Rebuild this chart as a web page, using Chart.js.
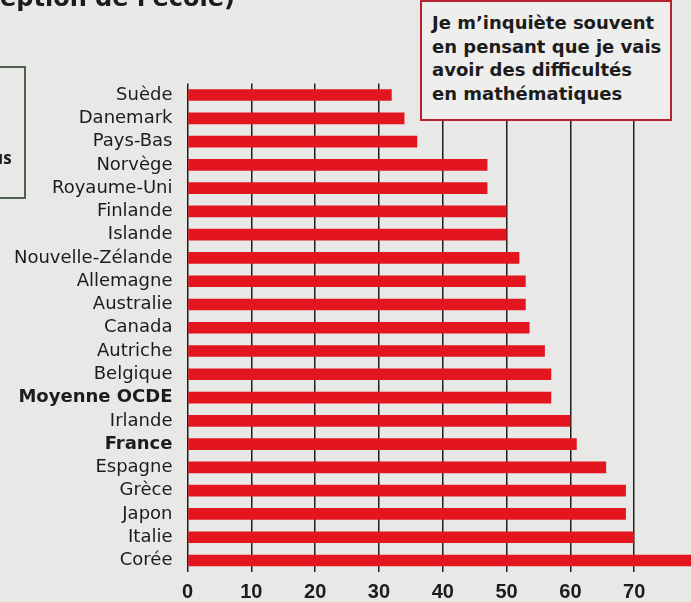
<!DOCTYPE html>
<html>
<head>
<meta charset="utf-8">
<script src="https://cdn.jsdelivr.net/npm/chart.js@4/dist/chart.umd.min.js"></script>
<style>
  html, body { margin: 0; padding: 0; background: #e8e8e6; }
  #wrap { position: relative; width: 691px; height: 602px; overflow: hidden; background: #e8e8e6; }
  #c { position: absolute; left: 0; top: 0; }
  .note { position: absolute; left: 420px; top: 0px; width: 248px; height: 117px;
          border: 2.5px solid #b3242f; background: #eeeeec; box-sizing: content-box;
          font-family: "DejaVu Sans", sans-serif; font-weight: 700; font-size: 18px;
          line-height: 23.5px; color: #1c1c1c; padding: 0; }
  .note div { position: absolute; left: 10px; top: 9.3px; white-space: nowrap; }
  .leftbox { position: absolute; left: -10px; top: 66px; width: 32px; height: 129px;
             border: 2px solid #4f5f52; }
  .leftbox span { position: absolute; left: 0px; top: 78px; font-family: "Open Sans", sans-serif;
                  font-weight: 700; font-size: 17px; color: #1c1c1c; }
  .toptitle { position: absolute; left: 0px; top: -14px; font-family: "DejaVu Sans", sans-serif;
              font-weight: 700; font-size: 24px; line-height: 24px; color: #1c1c1c; white-space: nowrap; }
</style>
</head>
<body>
<div id="wrap">
  <canvas id="c" width="691" height="602"></canvas>
  <div class="toptitle">eption de l'école)</div>
  <div class="leftbox"><span>us</span></div>
  <div class="note"><div>Je m’inquiète souvent<br>en pensant que je vais<br>avoir des difficultés<br>en mathématiques</div></div>
</div>
<script>
const categories = ["Suède","Danemark","Pays-Bas","Norvège","Royaume-Uni","Finlande","Islande","Nouvelle-Zélande","Allemagne","Australie","Canada","Autriche","Belgique","Moyenne OCDE","Irlande","France","Espagne","Grèce","Japon","Italie","Corée"];
const values = [32, 34, 36, 47, 47, 50, 50, 52, 53, 53, 53.6, 56, 57, 57, 60, 61, 65.6, 68.7, 68.7, 70, 79];
const boldLabels = ["Moyenne OCDE", "France"];
const xTicks = [0, 10, 20, 30, 40, 50, 60, 70];

new Chart(document.getElementById("c"), {
  type: "bar",
  data: {
    labels: categories,
    datasets: [{
      data: values,
      backgroundColor: "#e3161f",
      borderWidth: 0,
      barPercentage: 0.5,
      categoryPercentage: 1.0
    }]
  },
  options: {
    indexAxis: "y",
    responsive: false,
    animation: false,
    devicePixelRatio: 1,
    layout: { padding: { top: 83.4, right: 0, left: 0, bottom: 0 } },
    plugins: { legend: { display: false }, tooltip: { enabled: false }, title: { display: false } },
    scales: {
      x: {
        type: "linear",
        min: 0,
        max: 78.9,
        afterBuildTicks: (scale) => { scale.ticks = xTicks.map(v => ({ value: v })); },
        afterFit: (scale) => { scale.height = 29.9; },
        grid: { color: "#1e1e1e", lineWidth: 1.5, drawTicks: false },
        border: { display: false },
        ticks: {
          padding: 8,
          color: "#1c1c1c",
          font: { family: "Liberation Sans", size: 20, weight: "bold" }
        }
      },
      y: {
        afterFit: (scale) => { scale.width = 187.5; },
        grid: { display: false, drawTicks: false },
        border: { display: false },
        ticks: {
          padding: 15,
          color: "#1c1c1c",
          autoSkip: false,
          font: (ctx) => ({
            family: "DejaVu Sans",
            size: 18,
            weight: boldLabels.includes(categories[ctx.index]) ? "bold" : "normal"
          })
        }
      }
    }
  }
});
</script>
</body>
</html>
